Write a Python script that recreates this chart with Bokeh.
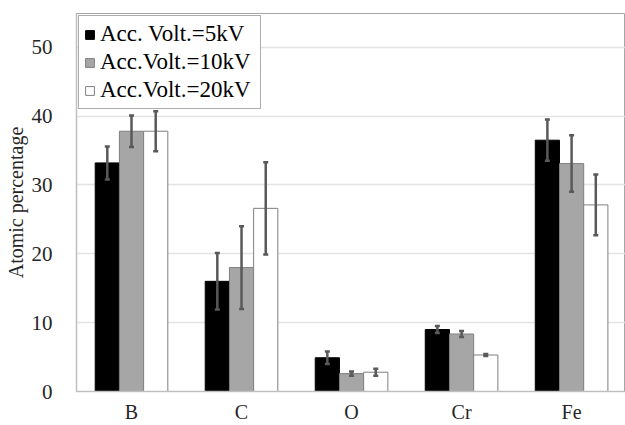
from bokeh.plotting import figure
from bokeh.models import ColumnDataSource, Range1d, FixedTicker, Whisker, TeeHead, Legend, LegendItem
from bokeh.embed import file_html
from bokeh.resources import INLINE

categories = ["B", "C", "O", "Cr", "Fe"]
series_names = ["Acc. Volt.=5kV", "Acc.Volt.=10kV", "Acc.Volt.=20kV"]
vals_5kV = [33.2, 16.0, 4.9, 9.0, 36.5]
err_5kV = [2.4, 4.1, 0.9, 0.5, 3.0]
vals_10kV = [37.8, 18.0, 2.6, 8.35, 33.1]
err_10kV = [2.3, 6.0, 0.3, 0.45, 4.1]
vals_20kV = [37.8, 26.6, 2.8, 5.3, 27.1]
err_20kV = [2.9, 6.7, 0.5, 0.15, 4.4]
y_ticks = [0, 10, 20, 30, 40, 50]

FONT = "Liberation Serif"
TXT = "#262626"

p = figure(width=625, height=425, output_backend="svg", toolbar_location=None,
           x_range=Range1d(0, 4.99), y_range=Range1d(0, 54.9),
           min_border_left=76, min_border_top=13, min_border_bottom=34, min_border_right=0)
p.background_fill_color = "white"
p.border_fill_color = "white"
p.outline_line_color = "#a6a6a6"
p.outline_line_width = 1

bar_w = 0.22
offsets = [-bar_w, 0.0, bar_w]
fills = ["#000000", "#a6a6a6", "#ffffff"]
lines = ["#000000", "#7f7f7f", "#7f7f7f"]
all_vals = [vals_5kV, vals_10kV, vals_20kV]
all_errs = [err_5kV, err_10kV, err_20kV]

items = []
for name, off, fc, lc, vals, errs in zip(series_names, offsets, fills, lines, all_vals, all_errs):
    xs = [i + 0.5 + off for i in range(len(categories))]
    src = ColumnDataSource(dict(x=xs, top=vals,
                                upper=[v + e for v, e in zip(vals, errs)],
                                lower=[v - e for v, e in zip(vals, errs)]))
    r = p.vbar(x="x", top="top", width=bar_w, bottom=0, source=src,
               fill_color=fc, line_color=lc, line_width=1)
    items.append(LegendItem(label=name, renderers=[r]))
    w = Whisker(base="x", upper="upper", lower="lower", source=src,
                line_color="#595959", line_width=2.5, level="overlay",
                upper_head=TeeHead(size=5, line_color="#595959", line_width=2.5),
                lower_head=TeeHead(size=5, line_color="#595959", line_width=2.5))
    p.add_layout(w)

legend = Legend(items=items, location="top_left", margin=2,
                padding=5, spacing=2, glyph_width=11, glyph_height=11,
                label_standoff=5, label_width=155,
                label_text_font=FONT, label_text_font_size="23px",
                label_text_color="#000000", border_line_color="#595959",
                border_line_width=1, background_fill_color="white",
                background_fill_alpha=1.0)
p.add_layout(legend)

p.xaxis.ticker = FixedTicker(ticks=[i + 0.5 for i in range(len(categories))])
p.xaxis.major_label_overrides = {i + 0.5: c for i, c in enumerate(categories)}
p.xaxis.major_tick_line_color = None
p.xaxis.minor_tick_line_color = None
p.xaxis.axis_line_color = "#bfbfbf"
p.xaxis.axis_line_width = 1.5
p.xaxis.major_label_text_font = FONT
p.xaxis.major_label_text_font_size = "20px"
p.xaxis.major_label_text_color = TXT
p.xaxis.major_label_standoff = 3

p.yaxis.ticker = FixedTicker(ticks=y_ticks)
p.yaxis.major_tick_line_color = None
p.yaxis.minor_tick_line_color = None
p.yaxis.axis_line_color = "#bfbfbf"
p.yaxis.axis_line_width = 1.5
p.yaxis.major_label_text_font = FONT
p.yaxis.major_label_text_font_size = "21px"
p.yaxis.major_label_text_color = TXT
p.yaxis.major_label_standoff = 18
p.yaxis.axis_label = "Atomic percentage"
p.yaxis.axis_label_text_font = FONT
p.yaxis.axis_label_text_font_size = "20px"
p.yaxis.axis_label_text_font_style = "normal"
p.yaxis.axis_label_text_color = TXT
p.yaxis.axis_label_standoff = 2

p.xgrid.grid_line_color = None
p.ygrid.grid_line_color = "#e3e3e3"
p.ygrid.grid_line_width = 1.5

open("out.html", "w").write(file_html(p, INLINE))
